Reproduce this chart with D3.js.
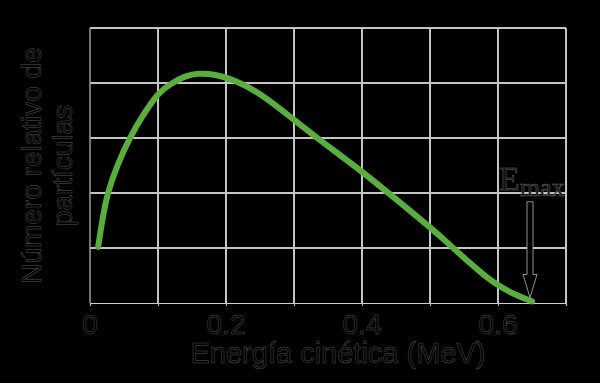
<!DOCTYPE html>
<html>
<head>
<meta charset="utf-8">
<script src="https://cdn.jsdelivr.net/npm/d3@7"></script>
<style>
  body { margin: 0; background: #000; }
  svg { display: block; }
  .lbl { fill: #000; stroke: #555; stroke-width: 0.5px; font-family: "Liberation Sans", Arial, sans-serif; }
</style>
</head>
<body>
<svg id="chart" width="600" height="383"></svg>
<script>
// Data
const energy = [0.012, 0.018, 0.026, 0.040, 0.059, 0.078, 0.101, 0.121, 0.140, 0.159, 0.184, 0.213, 0.25, 0.30, 0.334, 0.397, 0.437, 0.5, 0.529, 0.559, 0.593, 0.625, 0.65];
const counts = [1.02, 1.51, 2.02, 2.51, 3.02, 3.42, 3.84, 4.0, 4.13, 4.18, 4.16, 4.05, 3.82, 3.33, 3.0, 2.42, 2.02, 1.38, 1.06, 0.72, 0.36, 0.15, 0.03];
const xGrid = [0, 0.1, 0.2, 0.3, 0.4, 0.5, 0.6, 0.7];
const yGrid = [0, 1, 2, 3, 4, 5];
const xTickLabels = ["0", "0.2", "0.4", "0.6"];
const xTickValues = [0, 0.2, 0.4, 0.6];
const eMax = 0.65;

const svg = d3.select("#chart");
const margin = { left: 90, right: 34, top: 28, bottom: 80 };
const width = +svg.attr("width");
const height = +svg.attr("height");

const x = d3.scaleLinear().domain([0, 0.7]).range([margin.left, width - margin.right]);
const y = d3.scaleLinear().domain([0, 5]).range([height - margin.bottom, margin.top]);

// grid
svg.append("g").selectAll("line.h")
  .data(yGrid.slice(1))
  .enter().append("line")
  .attr("x1", x(0)).attr("x2", x(0.7))
  .attr("y1", d => y(d)).attr("y2", d => y(d))
  .attr("stroke", "#c4c4c4").attr("stroke-width", 2);

svg.append("g").selectAll("line.v")
  .data(xGrid.slice(1))
  .enter().append("line")
  .attr("x1", d => x(d)).attr("x2", d => x(d))
  .attr("y1", y(0)).attr("y2", y(5))
  .attr("stroke", "#c4c4c4").attr("stroke-width", 2);

// left axis line
svg.append("line")
  .attr("x1", x(0)).attr("x2", x(0))
  .attr("y1", y(0)).attr("y2", y(5))
  .attr("stroke", "#9a9a9a").attr("stroke-width", 1.5);

// bottom axis
const xAxis = svg.append("g")
  .attr("transform", `translate(0,${y(0)})`)
  .call(d3.axisBottom(x).tickValues(xGrid).tickSize(3).tickFormat(""));
xAxis.select(".domain").attr("stroke", "#d0d0d0").attr("stroke-width", 1.2);
xAxis.selectAll(".tick line").attr("stroke", "#bbb");

svg.append("g").selectAll("text")
  .data(xTickValues)
  .enter().append("text")
  .attr("class", "lbl")
  .attr("x", d => x(d))
  .attr("y", y(0) + 31)
  .attr("text-anchor", "middle")
  .style("font-size", "28px")
  .text((d, i) => xTickLabels[i]);

// curve
const line = d3.line()
  .x((d, i) => x(energy[i]))
  .y(d => y(d))
  .curve(d3.curveBasis);

svg.append("path")
  .datum(counts)
  .attr("d", line)
  .attr("fill", "none")
  .attr("stroke", "#5aae3d")
  .attr("stroke-width", 6)
  .attr("stroke-linecap", "round");

// E max arrow
const ax = x(eMax) - 2;
const aTop = y(1.84), aTip = y(0.1), headH = 23;
svg.append("path")
  .attr("d", `M${ax - 3},${aTop} L${ax + 3},${aTop} L${ax + 3},${aTip - headH} L${ax + 7},${aTip - headH} L${ax},${aTip} L${ax - 7},${aTip - headH} L${ax - 3},${aTip - headH} Z`)
  .attr("fill", "#000")
  .attr("stroke", "#b5b5b5")
  .attr("stroke-width", 0.8);

const emText = svg.append("text")
  .attr("x", ax - 31)
  .attr("y", y(2.05))
  .style("font-family", "'Liberation Serif', 'Times New Roman', serif")
  .attr("fill", "#111")
  .attr("stroke", "#666")
  .attr("stroke-width", 0.5);
emText.append("tspan").style("font-size", "34px").text("E");
emText.append("tspan").style("font-size", "26px").attr("dy", 6).text("max");

// axis titles
svg.append("text")
  .attr("class", "lbl")
  .attr("x", (x(0) + x(0.7)) / 2 + 10)
  .attr("y", 363)
  .attr("text-anchor", "middle")
  .style("font-size", "29px")
  .text("Energía cinética (MeV)");

const yTitle = svg.append("text")
  .attr("class", "lbl")
  .attr("transform", `translate(0,${(y(0) + y(5)) / 2}) rotate(-90)`)
  .attr("text-anchor", "middle")
  .style("font-size", "28px");
yTitle.append("tspan").attr("x", 0).attr("y", 41).text("Número relativo de");
yTitle.append("tspan").attr("x", 0).attr("y", 72).text("partículas");
</script>
</body>
</html>
